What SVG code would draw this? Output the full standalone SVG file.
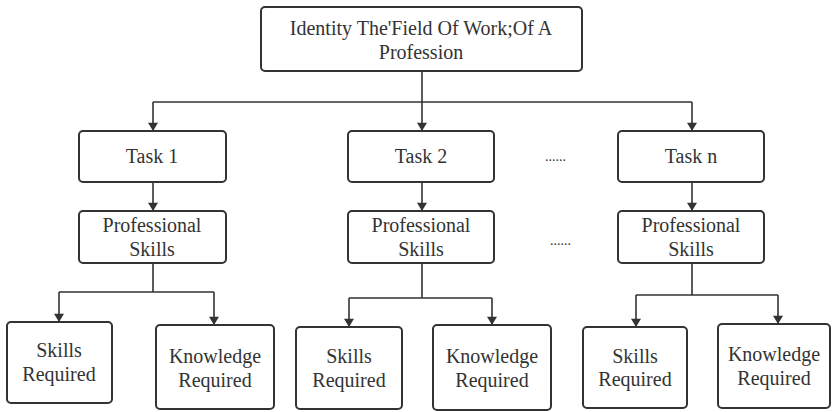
<svg xmlns="http://www.w3.org/2000/svg" width="833" height="412" viewBox="0 0 833 412">
<style>
.box{fill:#fff;stroke:#333;stroke-width:2}
.t{font-family:'Liberation Serif','Times New Roman',serif;font-size:20px;fill:#333;text-anchor:middle}
.c{fill:none;stroke:#333;stroke-width:1.6}
.d{font-family:'Liberation Serif',serif;font-size:14px;fill:#333}
</style>
<defs>
<marker id="ah" viewBox="0 0 10 12" refX="10" refY="6" markerWidth="12" markerHeight="10" markerUnits="userSpaceOnUse" orient="auto">
<path d="M0,0 L10,6 L0,12 z" fill="#333"/>
</marker>
</defs>
<rect width="833" height="412" fill="#fff"/>
<g id="connectors">
<path class="c" d="M422,71 V102"/>
<path class="c" d="M153,102 H692"/>
<path class="c" d="M153,102 V131" marker-end="url(#ah)"/>
<path class="c" d="M422,102 V131" marker-end="url(#ah)"/>
<path class="c" d="M692,102 V131" marker-end="url(#ah)"/>
<path class="c" d="M153,182 V211" marker-end="url(#ah)"/>
<path class="c" d="M422,182 V211" marker-end="url(#ah)"/>
<path class="c" d="M692,182 V211" marker-end="url(#ah)"/>
<path class="c" d="M153,263 V292 M59,292 H214"/>
<path class="c" d="M59,292 V322" marker-end="url(#ah)"/>
<path class="c" d="M214,292 V325" marker-end="url(#ah)"/>
<path class="c" d="M422,263 V298 M349,298 H492"/>
<path class="c" d="M349,298 V327" marker-end="url(#ah)"/>
<path class="c" d="M492,298 V325" marker-end="url(#ah)"/>
<path class="c" d="M692,263 V295 M636,295 H778"/>
<path class="c" d="M636,295 V327" marker-end="url(#ah)"/>
<path class="c" d="M778,295 V324" marker-end="url(#ah)"/>
</g>
<g id="root"><rect class="box" x="261" y="7" width="321" height="64" rx="4"/>
<text class="t" x="421" y="35">Identity The'Field Of Work;Of A</text>
<text class="t" x="421" y="59">Profession</text></g>
<g id="task1"><rect class="box" x="79" y="131" width="147" height="51" rx="4"/><text class="t" x="152" y="163">Task 1</text></g>
<g id="task2"><rect class="box" x="348" y="131" width="146" height="51" rx="4"/><text class="t" x="421" y="163">Task 2</text></g>
<g id="taskn"><rect class="box" x="618" y="131" width="146" height="51" rx="4"/><text class="t" x="691" y="163">Task n</text></g>
<g id="dots1"><text class="d" x="545" y="161">......</text></g>
<g id="dots2"><text class="d" x="550" y="245">......</text></g>
<g id="ps1"><rect class="box" x="79" y="211" width="147" height="52" rx="4"/><text class="t" x="152" y="232">Professional</text><text class="t" x="152" y="256">Skills</text></g>
<g id="ps2"><rect class="box" x="348" y="211" width="146" height="52" rx="4"/><text class="t" x="421" y="232">Professional</text><text class="t" x="421" y="256">Skills</text></g>
<g id="psn"><rect class="box" x="618" y="211" width="146" height="52" rx="4"/><text class="t" x="691" y="232">Professional</text><text class="t" x="691" y="256">Skills</text></g>
<g id="sr1"><rect class="box" x="7" y="322" width="105" height="81" rx="4"/><text class="t" x="59" y="357">Skills</text><text class="t" x="59" y="381">Required</text></g>
<g id="kr1"><rect class="box" x="156" y="325" width="118" height="84" rx="4"/><text class="t" x="215" y="363">Knowledge</text><text class="t" x="215" y="387">Required</text></g>
<g id="sr2"><rect class="box" x="296" y="327" width="106" height="82" rx="4"/><text class="t" x="349" y="363">Skills</text><text class="t" x="349" y="387">Required</text></g>
<g id="kr2"><rect class="box" x="433" y="325" width="118" height="85" rx="4"/><text class="t" x="492" y="363">Knowledge</text><text class="t" x="492" y="387">Required</text></g>
<g id="sr3"><rect class="box" x="583" y="327" width="104" height="81" rx="4"/><text class="t" x="635" y="363">Skills</text><text class="t" x="635" y="386">Required</text></g>
<g id="kr3"><rect class="box" x="718" y="324" width="112" height="84" rx="4"/><text class="t" x="774" y="361">Knowledge</text><text class="t" x="774" y="385">Required</text></g>
</svg>
